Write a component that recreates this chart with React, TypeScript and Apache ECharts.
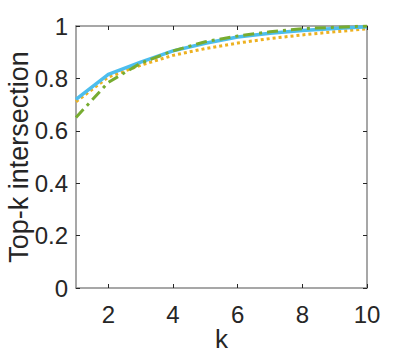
import React, { useEffect, useRef } from "react";
import * as echarts from "echarts";

const ks = [1, 2, 3, 4, 5, 6, 7, 8, 9, 10];
const solidBlue = [0.72, 0.815, 0.862, 0.905, 0.934, 0.958, 0.972, 0.983, 0.99, 0.997];
const dottedOrange = [0.711, 0.805, 0.85, 0.888, 0.914, 0.935, 0.952, 0.966, 0.978, 0.989];
const dashDotGreen = [0.651, 0.785, 0.858, 0.905, 0.94, 0.962, 0.978, 0.99, 0.995, 1.0];
const xTicks = [2, 4, 6, 8, 10];

const FONT = "Liberation Sans";
const TEXT = "#262626";
const AXIS = "#8a8a8a";

export default function App() {
  const ref = useRef<HTMLDivElement>(null);
  useEffect(() => {
    const chart = echarts.init(ref.current!, undefined, { renderer: "svg" });
    const pair = (arr: number[]) => ks.map((k, i) => [k, arr[i]]);
    const xBase = {
      type: "value" as const,
      min: 1,
      max: 10,
      axisLine: { show: true, onZero: false, lineStyle: { color: AXIS, width: 1.5 } },
      splitLine: { show: false },
    };
    const yBase = {
      type: "value" as const,
      min: 0,
      max: 1,
      interval: 0.2,
      axisLine: { show: true, onZero: false, lineStyle: { color: AXIS, width: 1.5 } },
      splitLine: { show: false },
    };
    chart.setOption({
      animation: false,
      grid: { left: 76, top: 26, width: 291, height: 262, containLabel: false, outerBoundsMode: "none" },
      xAxis: [
        {
          ...xBase,
          position: "bottom",
          name: "k",
          nameLocation: "middle",
          nameGap: 39,
          nameMoveOverlap: false,
          nameTextStyle: { color: TEXT, fontSize: 26, fontFamily: FONT, lineHeight: 24 },
          axisTick: { show: true, inside: true, length: 4, customValues: xTicks, lineStyle: { color: TEXT } },
          axisLabel: {
            show: true,
            customValues: xTicks,
            color: TEXT,
            fontSize: 24,
            fontFamily: FONT,
            margin: 14,
          },
        },
        {
          ...xBase,
          position: "top",
          axisTick: { show: true, inside: true, length: 4, customValues: xTicks, lineStyle: { color: TEXT } },
          axisLabel: { show: false },
        },
      ],
      yAxis: [
        {
          ...yBase,
          position: "left",
          name: "Top-k intersection",
          nameLocation: "middle",
          nameGap: 44,
          nameMoveOverlap: false,
          nameTextStyle: { color: TEXT, fontSize: 27, fontFamily: FONT, lineHeight: 26 },
          axisTick: { show: true, inside: true, length: 4, lineStyle: { color: TEXT } },
          axisLabel: {
            show: true,
            color: TEXT,
            fontSize: 24,
            fontFamily: FONT,
            margin: 8,
            formatter: (v: number) => String(Math.round(v * 10) / 10),
          },
        },
        {
          ...yBase,
          position: "right",
          axisTick: { show: true, inside: true, length: 4, lineStyle: { color: TEXT } },
          axisLabel: { show: false },
        },
      ],
      series: [
        {
          type: "line",
          data: pair(dottedOrange),
          showSymbol: false,
          lineStyle: { color: "#EDB120", width: 3, type: [3, 3] },
          z: 2,
        },
        {
          type: "line",
          data: pair(solidBlue),
          showSymbol: false,
          lineStyle: { color: "#4DBEEE", width: 3.5, type: "solid" },
          z: 3,
        },
        {
          type: "line",
          data: pair(dashDotGreen),
          showSymbol: false,
          lineStyle: { color: "#77AC30", width: 3, type: [11, 5, 3, 5] },
          z: 4,
        },
      ],
    });
    return () => chart.dispose();
  }, []);
  return (
    <div
      ref={ref}
      style={{ position: "absolute", left: 0, top: 0, width: 407, height: 357 }}
    />
  );
}
